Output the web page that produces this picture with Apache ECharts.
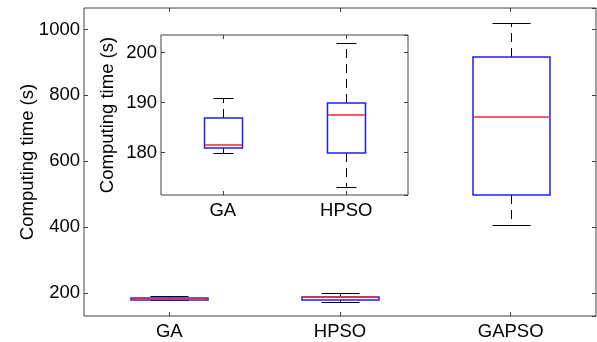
<!DOCTYPE html>
<html>
<head>
<meta charset="utf-8">
<script src="https://cdn.jsdelivr.net/npm/echarts@6/dist/echarts.min.js"></script>
<style>
  html, body { margin: 0; padding: 0; background: #fff; }
  #chart { width: 597px; height: 342px; }
</style>
</head>
<body>
<div id="chart"></div>
<script>
// categories
var mainCategories = ['GA', 'HPSO', 'GAPSO'];
var insetCategories = ['GA', 'HPSO'];

// box stats: [min, q1, median, q3, max]
var gaStats = [180, 181, 181.5, 187, 191];
var hpsoStats = [173.2, 180, 187.4, 190, 202];
var gapsoStats = [406, 497, 733, 915, 1021];

var mainStats = [gaStats, hpsoStats, gapsoStats];
var insetStats = [gaStats, hpsoStats];

var yName = 'Computing time (s)';

function toData(stats) {
    return stats.map(function (s, i) {
        return [i].concat(s);
    });
}

function px(v) {
    return Math.round(v) + 0.5;
}

// box drawn with MATLAB look: blue box, red median, dashed black whiskers
function makeRender(halfBox, halfCap) {
    return function (params, api) {
        var i = api.value(0);
        var pMin = api.coord([i, api.value(1)]);
        var pQ1 = api.coord([i, api.value(2)]);
        var pMed = api.coord([i, api.value(3)]);
        var pQ3 = api.coord([i, api.value(4)]);
        var pMax = api.coord([i, api.value(5)]);
        var cx = px(pMin[0]);
        var yMin = px(pMin[1]), yQ1 = Math.round(pQ1[1]), yQ3 = Math.round(pQ3[1]), yMax = px(pMax[1]);
        var yMed = Math.round(pMed[1]);
        var dash = { stroke: '#000', lineWidth: 1, lineDash: [9, 6] };
        var solid = { stroke: '#000', lineWidth: 1 };
        return {
            type: 'group',
            children: [
                { type: 'line', shape: { x1: cx, y1: yQ3, x2: cx, y2: yMax }, style: dash },
                { type: 'line', shape: { x1: cx, y1: yQ1, x2: cx, y2: yMin }, style: dash },
                { type: 'line', shape: { x1: cx - halfCap, y1: yMax, x2: cx + halfCap, y2: yMax }, style: solid },
                { type: 'line', shape: { x1: cx - halfCap, y1: yMin, x2: cx + halfCap, y2: yMin }, style: solid },
                {
                    type: 'rect',
                    shape: { x: cx - halfBox, y: yQ3, width: halfBox * 2, height: yQ1 - yQ3 },
                    style: { fill: 'none', stroke: 'rgb(30,30,255)', lineWidth: 1.5 }
                },
                {
                    type: 'line', z2: 10,
                    shape: { x1: cx - halfBox + 0.5, y1: yMed, x2: cx + halfBox - 0.5, y2: yMed },
                    style: { stroke: 'rgb(255,40,40)', lineWidth: 1.6 }
                }
            ]
        };
    };
}

var font = 'Liberation Sans, Arial, sans-serif';
var fontSize = 18.5;
var frameColor = '#404040';

function catAxis(gridIndex, data, pos, showLabel) {
    return {
        type: 'category', gridIndex: gridIndex, data: data, position: pos,
        axisLine: { show: false },
        axisTick: { show: true, inside: true, alignWithLabel: true, length: 4, lineStyle: { color: frameColor } },
        axisLabel: { show: showLabel, color: '#000', fontFamily: font, fontSize: fontSize, margin: 6 },
        splitLine: { show: false }
    };
}

function valAxis(gridIndex, min, max, split, pos, showLabel, gap) {
    return {
        type: 'value', gridIndex: gridIndex, min: min, max: max, splitNumber: split, position: pos,
        name: showLabel ? yName : '', nameLocation: 'middle', nameGap: gap, nameMoveOverlap: false,
        nameTextStyle: { color: '#000', fontFamily: font, fontSize: fontSize },
        axisLine: { show: false },
        axisTick: { show: true, inside: true, length: 4, lineStyle: { color: frameColor } },
        axisLabel: {
            show: showLabel, color: '#000', fontFamily: font, fontSize: fontSize, margin: 4,
            showMinLabel: false, showMaxLabel: false,
            formatter: function (v) { return String(v); }
        },
        splitLine: { show: false }
    };
}

var chart = echarts.init(document.getElementById('chart'));
chart.setOption({
    animation: false,
    backgroundColor: '#fff',
    grid: [
        { left: 84, top: 8, right: 1, bottom: 26, show: true, borderColor: frameColor, borderWidth: 1, backgroundColor: '#fff' },
        { left: 161, top: 35, width: 247, height: 160, show: true, borderColor: frameColor, borderWidth: 1, backgroundColor: '#fff' }
    ],
    xAxis: [
        catAxis(0, mainCategories, 'bottom', true),
        catAxis(0, mainCategories, 'top', false),
        catAxis(1, insetCategories, 'bottom', true),
        catAxis(1, insetCategories, 'top', false)
    ],
    yAxis: [
        valAxis(0, 131, 1065, 5, 'left', true, 47),
        valAxis(0, 131, 1065, 5, 'right', false, 47),
        valAxis(1, 171.5, 203.5, 3, 'left', true, 44),
        valAxis(1, 171.5, 203.5, 3, 'right', false, 44)
    ],
    series: [
        {
            type: 'custom', xAxisIndex: 0, yAxisIndex: 0,
            renderItem: makeRender(38.5, 19),
            encode: { x: 0, y: [1, 2, 3, 4, 5] },
            data: toData(mainStats)
        },
        {
            type: 'custom', xAxisIndex: 2, yAxisIndex: 2,
            renderItem: makeRender(19, 10),
            encode: { x: 0, y: [1, 2, 3, 4, 5] },
            data: toData(insetStats)
        }
    ]
});
</script>
</body>
</html>
